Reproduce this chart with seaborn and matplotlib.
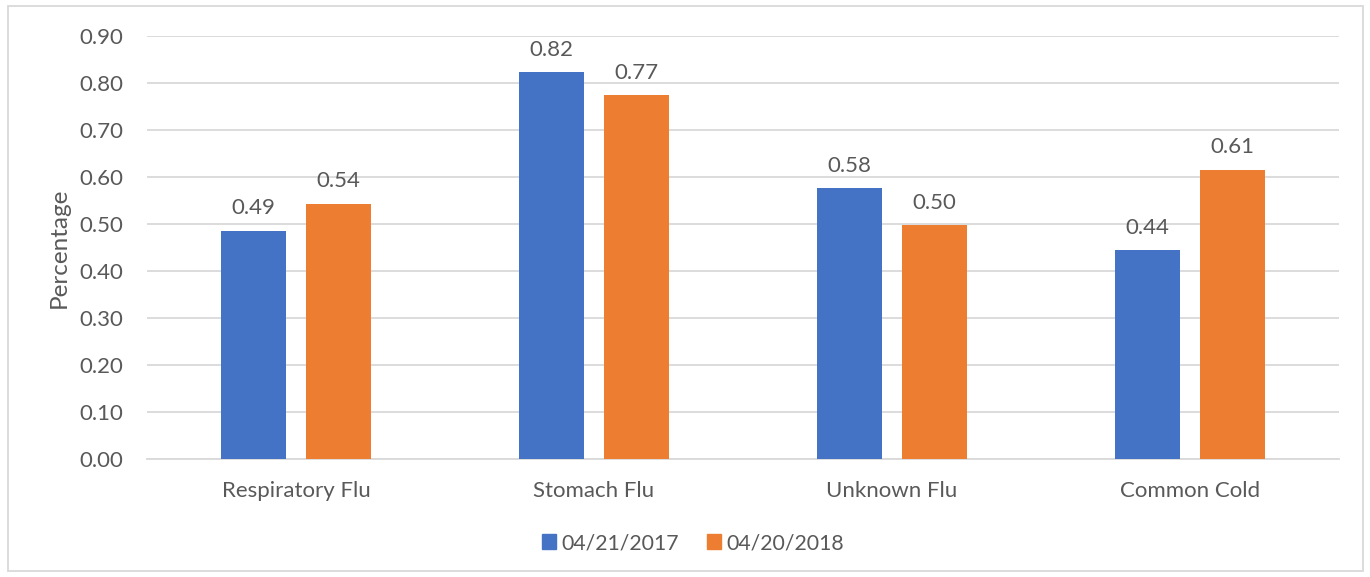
import matplotlib
matplotlib.use("Agg")
import matplotlib.pyplot as plt
import matplotlib.patches as mpatches
import seaborn as sns
import pandas as pd

categories = ["Respiratory Flu", "Stomach Flu", "Unknown Flu", "Common Cold"]
series_names = ["04/21/2017", "04/20/2018"]
values_2017 = [0.486, 0.823, 0.576, 0.444]
values_2018 = [0.543, 0.774, 0.497, 0.615]
yticks = [0.0, 0.1, 0.2, 0.3, 0.4, 0.5, 0.6, 0.7, 0.8, 0.9]

df = pd.DataFrame({
    "Category": categories * 2,
    "Series": [series_names[0]] * 4 + [series_names[1]] * 4,
    "Value": values_2017 + values_2018,
})

sns.set_theme(style="white")
plt.rcParams['font.family'] = ['Lato', 'DejaVu Sans']
text_color = "#595959"

fig = plt.figure(figsize=(13.7, 5.77), dpi=100)
ax = fig.add_axes([147/1370, 1 - 459/577, (1339 - 147)/1370, (459 - 36)/577])

palette = {series_names[0]: "#4472C4", series_names[1]: "#ED7D31"}
sns.barplot(data=df, x="Category", y="Value", hue="Series", order=categories,
            hue_order=series_names, palette=palette, width=0.57, gap=0.23,
            saturation=1, ax=ax, errorbar=None, linewidth=0, zorder=3)

for c in ax.containers:
    ax.bar_label(c, labels=[f"{v:.2f}" for v in c.datavalues], padding=9,
                 fontsize=16, color=text_color)

ax.set_ylim(0, 0.9)
ax.set_yticks(yticks)
ax.set_yticklabels([f"{t:.2f}" for t in yticks])
ax.yaxis.grid(True, color="#d9d9d9", linewidth=1.3, zorder=0)
ax.set_axisbelow(True)
for s in ["left", "right", "top"]:
    ax.spines[s].set_visible(False)
ax.spines["bottom"].set_color("#d9d9d9")
ax.spines["bottom"].set_linewidth(1.3)
ax.tick_params(axis="both", length=0, labelsize=16, colors=text_color)
ax.tick_params(axis="y", pad=17)
ax.tick_params(axis="x", pad=16)
ax.set_xlabel("")
ax.set_ylabel("Percentage", fontsize=17.5, color=text_color, labelpad=7)

handles = [mpatches.Patch(color=palette[s], label=s) for s in series_names]
ax.legend(handles=handles, loc="center", bbox_to_anchor=(693/1370, 1 - 543/577),
          bbox_transform=fig.transFigure, ncol=2, frameon=False, fontsize=15.3,
          labelcolor=text_color, handlelength=0.65, handleheight=0.65,
          handletextpad=0.25, columnspacing=1.3)

fig.patches.append(mpatches.Rectangle((8/1370, 1 - 571/577), (1363 - 8)/1370, (571 - 6)/577,
                                      transform=fig.transFigure, fill=False,
                                      edgecolor="#d9d9d9", linewidth=1.3))

fig.savefig("out.png", dpi=100)
